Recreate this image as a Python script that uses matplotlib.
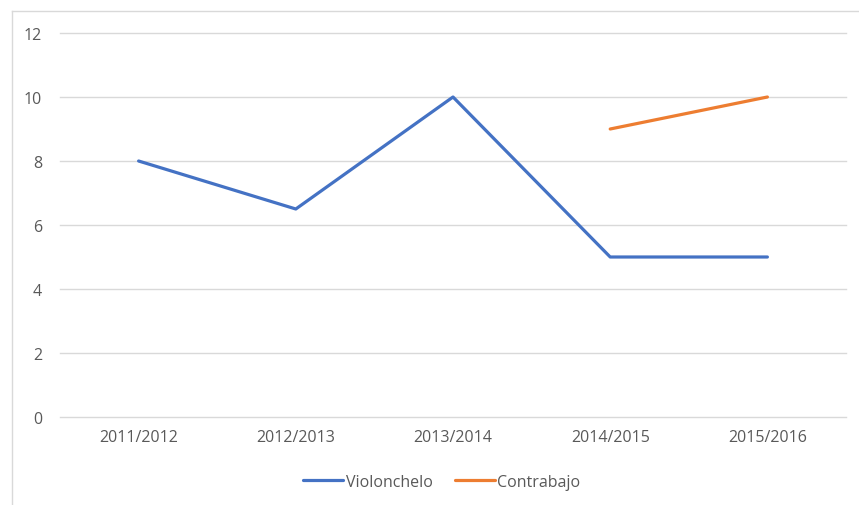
import matplotlib
matplotlib.use("Agg")
import matplotlib.pyplot as plt
from matplotlib.lines import Line2D
import numpy as np

categories = ["2011/2012", "2012/2013", "2013/2014", "2014/2015", "2015/2016"]
violonchelo = [8, 6.5, 10, 5, 5]
contrabajo = [np.nan, np.nan, np.nan, 9, 10]
yticks = [0, 2, 4, 6, 8, 10, 12]

plt.rcParams['font.family'] = ['Open Sans', 'DejaVu Sans']
W, H = 859, 506
fig = plt.figure(figsize=(W/100, H/100), dpi=100)
ax = fig.add_axes([60/W, (H-418)/H, (846-60)/W, (418-34)/H])

x = np.arange(len(categories))
ax.plot(x, violonchelo, color="#4472C4", lw=2.3, solid_capstyle="round", label="Violonchelo")
ax.plot(x, contrabajo, color="#ED7D31", lw=2.3, solid_capstyle="round", label="Contrabajo")

ax.set_xlim(-0.5, len(categories) - 0.5)
ax.set_ylim(0, 12)
ax.set_yticks(yticks)
ax.set_xticks(x)
ax.set_xticklabels(categories)
ax.grid(axis="y", color="#d9d9d9", lw=1)
for gl in ax.get_ygridlines():
    gl.set_clip_on(False)
ax.set_axisbelow(True)
for s in ax.spines.values():
    s.set_visible(False)
ax.tick_params(length=0, labelsize=11.5, colors="#595959")
ax.tick_params(axis="y", pad=13)
ax.tick_params(axis="x", pad=9)

# chart border (left and top visible)
fig.add_artist(Line2D([11.5/W, 11.5/W], [0, (H-12)/H], color="#d9d9d9", lw=1, transform=fig.transFigure))
fig.add_artist(Line2D([11.5/W, 1], [(H-12)/H, (H-12)/H], color="#d9d9d9", lw=1, transform=fig.transFigure))

leg = fig.legend(loc="center", bbox_to_anchor=(442/W, (H-483)/H), ncol=2, frameon=False,
                 fontsize=11.5, handlelength=2.5, handletextpad=0.15, columnspacing=1.4)
for t in leg.get_texts():
    t.set_color("#595959")

fig.savefig("out.png", dpi=100)
